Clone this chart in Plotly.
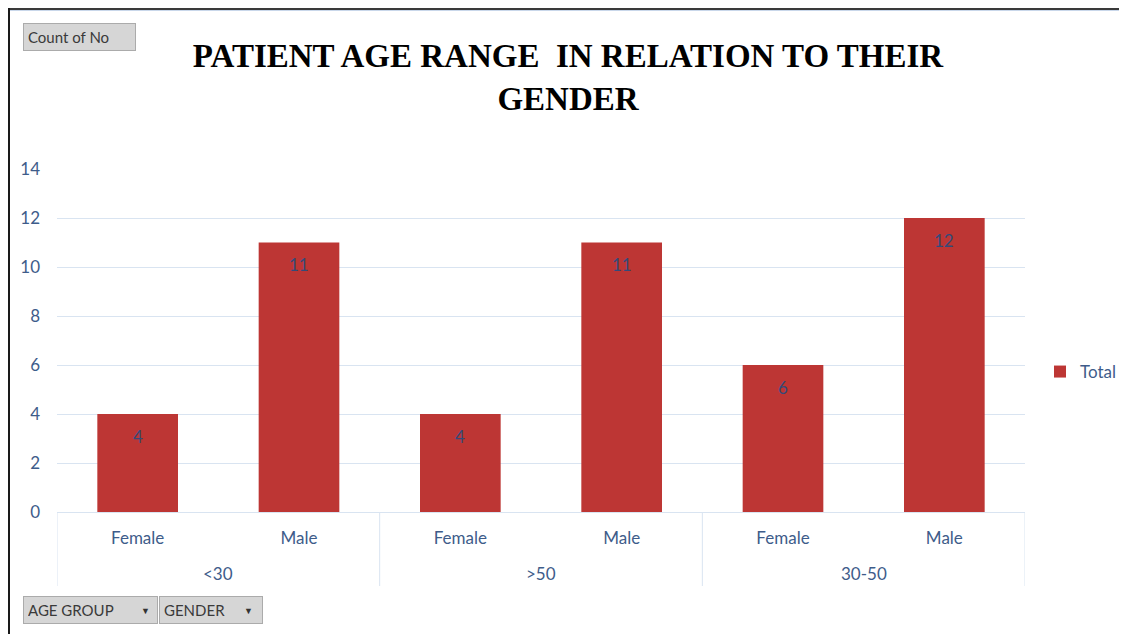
import plotly.graph_objects as go

age_groups = ["<30", "<30", ">50", ">50", "30-50", "30-50"]
genders = ["Female", "Male", "Female", "Male", "Female", "Male"]
counts = [4, 11, 4, 11, 6, 12]
y_ticks = [0, 2, 4, 6, 8, 10, 12, 14]

label_color = "#3E5C8A"
font_fam = "Lato, 'Open Sans', sans-serif"
grid_color = "#D9E4F1"

# page has an 8px body margin; work in page pixels and convert
OFF = 8
W, H = 1127 - OFF, 634 - OFF
PL, PR, PT, PB = 57, 1025, 169, 512          # plot area in page pixels
L, T = PL - OFF, PT - OFF
pw, ph = PR - PL, PB - PT
R, B = W - L - pw, H - T - ph

def px_x(px):
    return (px - PL) / pw

def px_y(py):
    return (PB - py) / ph

xpos = list(range(len(genders)))

fig = go.Figure()
fig.add_trace(go.Bar(
    x=xpos,
    y=counts,
    name="Total",
    marker=dict(color="#BD3634", line=dict(width=0)),
    showlegend=True,
    hoverinfo="y",
))

# data labels inside bars near the top
for xi, v in zip(xpos, counts):
    fig.add_annotation(x=xi, y=v, xref="x", yref="y", text=str(v), showarrow=False,
                       yshift=-22, font=dict(color="#344A78", size=17, family=font_fam))

# group labels and dividers
groups = []
for i, g in enumerate(age_groups):
    if not groups or groups[-1][0] != g:
        groups.append([g, i, i])
    else:
        groups[-1][2] = i
for g, i0, i1 in groups:
    fig.add_annotation(x=(i0 + i1) / 2, y=px_y(573), xref="x", yref="paper", text=g,
                       showarrow=False, yanchor="middle",
                       font=dict(color=label_color, size=17, family=font_fam))
bounds = [groups[0][1] - 0.5] + [g[2] + 0.5 for g in groups]
for bx in bounds:
    fig.add_shape(type="line", xref="x", yref="paper", x0=bx, x1=bx, y0=0, y1=px_y(586),
                  line=dict(color=grid_color, width=1))

fig.update_layout(
    width=W, height=H,
    margin=dict(l=L, r=R, t=T, b=B, autoexpand=False),
    paper_bgcolor="white", plot_bgcolor="white",
    bargap=0.5,
    title=dict(
        text="<b>PATIENT AGE RANGE  IN RELATION TO THEIR<br>GENDER</b>",
        x=(568 - OFF) / W, xanchor="center", y=1 - 59 / H, yanchor="top",
        font=dict(family="'Liberation Serif', 'Times New Roman', serif", size=33, color="black"),
    ),
    legend=dict(x=px_x(1040), y=px_y(372), xanchor="left", yanchor="middle",
                font=dict(family=font_fam, size=17, color=label_color),
                itemwidth=30),
    font=dict(family=font_fam, color=label_color),
)

fig.update_yaxes(range=[0, 14], tickvals=y_ticks, showgrid=True, gridcolor=grid_color,
                 gridwidth=1, zeroline=False, showline=False, automargin=False,
                 tickfont=dict(size=17, color=label_color, family=font_fam),
                 ticks="", ticklabelstandoff=16)
fig.update_xaxes(range=[-0.5, len(genders) - 0.5], tickvals=xpos, ticktext=genders,
                 showline=True, linecolor=grid_color, linewidth=1, automargin=False,
                 tickfont=dict(size=17, color=label_color, family=font_fam),
                 ticks="", showgrid=False, zeroline=False, ticklabelstandoff=11)

# chart frame (top and left edges), at the figure's top-left corner
fig.add_shape(type="line", xref="paper", yref="paper", x0=px_x(OFF), x1=px_x(1127 + 5),
              y0=px_y(OFF + 1), y1=px_y(OFF + 1), line=dict(color="#3A3A3A", width=2))
fig.add_shape(type="line", xref="paper", yref="paper", x0=px_x(OFF + 2), x1=px_x(1127 + 5),
              y0=px_y(OFF + 2.5), y1=px_y(OFF + 2.5), line=dict(color="#C9D7EA", width=1))
fig.add_shape(type="line", xref="paper", yref="paper", x0=px_x(OFF + 1), x1=px_x(OFF + 1),
              y0=px_y(OFF), y1=px_y(640), line=dict(color="#1A1A1A", width=2))

btn = dict(xref="paper", yref="paper", showarrow=False, bgcolor="#D6D6D6",
           bordercolor="#ABABAB", borderwidth=1, borderpad=4, align="left",
           font=dict(family=font_fam, size=15, color="#3A3A3A"))
fig.add_annotation(text="Count of No", x=px_x(23), y=px_y(37), xanchor="left",
                   yanchor="middle", width=103, **btn)
fig.add_annotation(text="AGE GROUP", x=px_x(23), y=px_y(610), xanchor="left",
                   yanchor="middle", width=125, **btn)
fig.add_annotation(text="GENDER", x=px_x(159), y=px_y(610), xanchor="left",
                   yanchor="middle", width=94, **btn)
for ax_px in (145, 248):
    fig.add_annotation(text="▼", x=px_x(ax_px), y=px_y(610), xref="paper", yref="paper",
                       showarrow=False, xanchor="center", yanchor="middle",
                       font=dict(size=9, color="#333333"))

fig.write_html("out.html")
